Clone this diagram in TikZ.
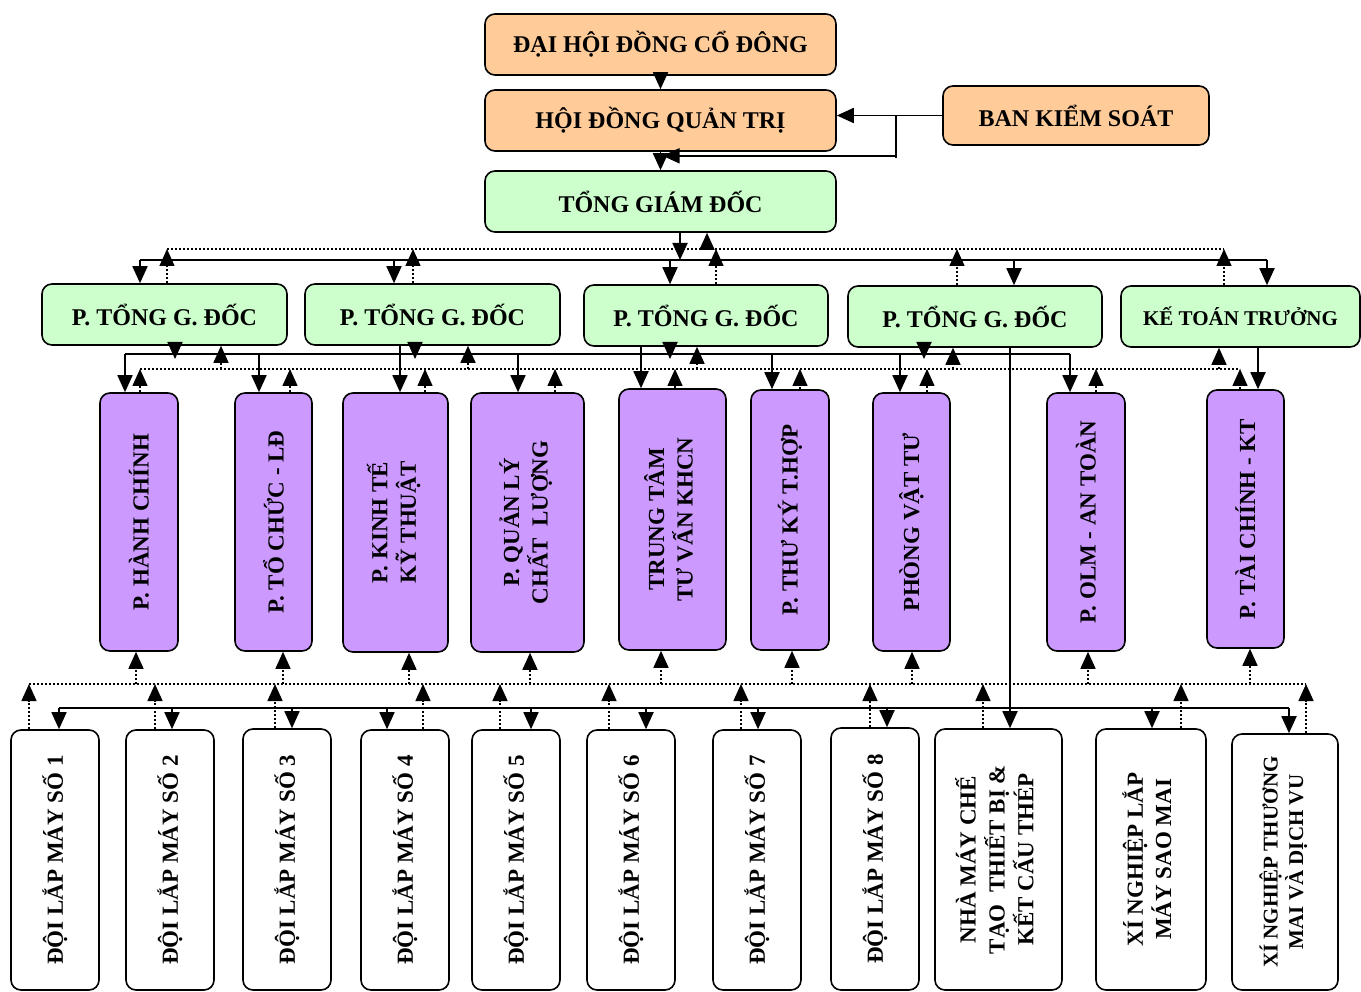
\documentclass[tikz,border=0pt]{standalone}
\usepackage{fontspec}
\setmainfont{Liberation Serif}
\usepackage{graphicx}
\usetikzlibrary{arrows.meta}

\definecolor{boardorange}{RGB}{255,204,153}
\definecolor{mgrgreen}{RGB}{204,255,204}
\definecolor{deptpurple}{RGB}{204,153,255}

\tikzset{
  box/.style={draw, line width=1.6pt, rounded corners=10pt, inner sep=0pt, align=center, font=\bfseries\fontsize{24}{28}\selectfont},
  board/.style={box, fill=boardorange},
  manager/.style={box, fill=mgrgreen},
  dept/.style={box, fill=deptpurple, font=\bfseries\fontsize{23}{27}\selectfont},
  unit/.style={box, fill=white, font=\bfseries\fontsize{23}{28}\selectfont},
  cline/.style={line width=1.8pt},
  rline/.style={line width=1.5pt, dash pattern=on 2pt off 2pt},
  order/.style={cline, -{Triangle[length=17pt,width=15pt]}},
  report/.style={rline, -{Triangle[length=17pt,width=15pt]}}
}

\begin{document}
\begin{tikzpicture}[x=1pt,y=-1pt]

%\draw (0,0) grid (1361,992);
\useasboundingbox (0,0) rectangle (1361,992);

\node [board, minimum width=351, minimum height=61] (dhcd) at (660.5,44.5) {ĐẠI HỘI ĐỒNG CỔ ĐÔNG};
\node [board, minimum width=351, minimum height=61] (hdqt) at (660.5,120.5) {HỘI ĐỒNG QUẢN TRỊ};
\node [board, minimum width=266, minimum height=59] (bks) at (1076,115.5) {BAN KIỂM SOÁT};
\node [manager, minimum width=351, minimum height=61] (tgd) at (660.5,201.5) {TỔNG GIÁM ĐỐC};

\node [manager, minimum width=245, minimum height=61] (ptgd1) at (164.5,314.5) {P. TỔNG G. ĐỐC};
\node [manager, minimum width=255, minimum height=61] (ptgd2) at (432.5,314.5) {P. TỔNG G. ĐỐC};
\node [manager, minimum width=244, minimum height=61] (ptgd3) at (706,315.5) {P. TỔNG G. ĐỐC};
\node [manager, minimum width=254, minimum height=61] (ptgd4) at (975,316.5) {P. TỔNG G. ĐỐC};
\node [manager, minimum width=239, minimum height=61, font=\bfseries\fontsize{21}{25}\selectfont] (ketoan) at (1240.5,316.5) {KẾ TOÁN TRƯỞNG};

\node [dept, minimum width=78, minimum height=258] (hanhchinh) at (139,522) {\rotatebox{90}{P. HÀNH CHÍNH}};
\node [dept, minimum width=77, minimum height=258] (tochuc) at (273.5,522) {\rotatebox{90}{P. TỔ CHỨC - LĐ}};
\node [dept, minimum width=105, minimum height=259] (kinhte) at (395.5,522.5) {\rotatebox{90}{\begin{tabular}{@{}c@{}}P. KINH TẾ\\KỸ THUẬT\end{tabular}}};
\node [dept, minimum width=113, minimum height=259] (chatluong) at (527.5,522.5) {\rotatebox{90}{\begin{tabular}{@{}c@{}}P. QUẢN LÝ\\CHẤT~ LƯỢNG\end{tabular}}};
\node [dept, minimum width=107, minimum height=261] (tuvan) at (672.5,519.5) {\rotatebox{90}{\begin{tabular}{@{}c@{}}TRUNG TÂM\\TƯ VẤN KHCN\end{tabular}}};
\node [dept, minimum width=78, minimum height=260] (thuky) at (790,520) {\rotatebox{90}{P. THƯ KÝ T.HỢP}};
\node [dept, minimum width=77, minimum height=258] (vattu) at (911.5,522) {\rotatebox{90}{PHÒNG VẬT TƯ}};
\node [dept, minimum width=78, minimum height=258] (antoan) at (1086,522) {\rotatebox{90}{P. OLM - AN TOÀN}};
\node [dept, minimum width=77, minimum height=258] (taichinh) at (1245.5,519) {\rotatebox{90}{P. TÀI CHÍNH - KT}};

\node [unit, minimum width=88, minimum height=260] (doi1) at (55,860) {\rotatebox{90}{ĐỘI LẮP MÁY SỐ 1}};
\node [unit, minimum width=88, minimum height=260] (doi2) at (170,860) {\rotatebox{90}{ĐỘI LẮP MÁY SỐ 2}};
\node [unit, minimum width=88, minimum height=261] (doi3) at (287,859.5) {\rotatebox{90}{ĐỘI LẮP MÁY SỐ 3}};
\node [unit, minimum width=88, minimum height=260] (doi4) at (405,860) {\rotatebox{90}{ĐỘI LẮP MÁY SỐ 4}};
\node [unit, minimum width=88, minimum height=260] (doi5) at (516,860) {\rotatebox{90}{ĐỘI LẮP MÁY SỐ 5}};
\node [unit, minimum width=88, minimum height=260] (doi6) at (631,860) {\rotatebox{90}{ĐỘI LẮP MÁY SỐ 6}};
\node [unit, minimum width=88, minimum height=260] (doi7) at (757,860) {\rotatebox{90}{ĐỘI LẮP MÁY SỐ 7}};
\node [unit, minimum width=88, minimum height=262] (doi8) at (875,859) {\rotatebox{90}{ĐỘI LẮP MÁY SỐ 8}};
\node [unit, minimum width=127, minimum height=261] (nhamay) at (998.5,859.5) {\rotatebox{90}{\begin{tabular}{@{}c@{}}NHÀ MÁY CHẾ\\TẠO~ THIẾT BỊ \&\\KẾT CẤU THÉP\end{tabular}}};
\node [unit, minimum width=110, minimum height=261] (saomai) at (1151,859.5) {\rotatebox{90}{\begin{tabular}{@{}c@{}}XÍ NGHIỆP LẮP\\MÁY SAO MAI\end{tabular}}};
\node [unit, minimum width=106, minimum height=256, font=\bfseries\fontsize{21}{25}\selectfont] (thuongmai) at (1285,862) {\rotatebox{90}{\begin{tabular}{@{}c@{}}XÍ NGHIỆP THƯƠNG\\MAI VÀ DỊCH VU\end{tabular}}};

\coordinate (r1) at (0,249); \coordinate (s1) at (0,260);
\coordinate (s2) at (0,354); \coordinate (r2) at (0,369);
\coordinate (r3) at (0,684); \coordinate (s3) at (0,708);
\coordinate (bj) at (896,115.5);

% top
\draw [order] (dhcd) -- (hdqt); \draw [order] (hdqt) -- (tgd);
\draw [order] (bks) -- (bks -| hdqt.east);
\draw [cline] (bj) -- ++(0,43); \draw [order] (bj) |- ([xshift=2,yshift=-4]hdqt.south);

% tong giam doc
\draw [order] (tgd.south -| 680,0) -- (s1 -| 680,0); \draw [report] (r1 -| 707,0) -- (tgd.south -| 707,0);
\draw [cline] (s1 -| 140,0) -- (s1 -| 1267,0); \draw [rline] (r1 -| 167,0) -- (r1 -| 1224,0);
\draw [order] (s1 -| 140,0) -- (ptgd1.north -| 140,0); \draw [report] (ptgd1.north -| 167,0) -- (r1 -| 167,0);
\draw [order] (s1 -| 394,0) -- (ptgd2.north -| 394,0); \draw [report] (ptgd2.north -| 413,0) -- (r1 -| 413,0);
\draw [order] (s1 -| 670,0) -- (ptgd3.north -| 670,0); \draw [report] (ptgd3.north -| 716,0) -- (r1 -| 716,0);
\draw [order] (s1 -| 1014,0) -- (ptgd4.north -| 1014,0); \draw [report] (ptgd4.north -| 957,0) -- (r1 -| 957,0);
\draw [order] (s1 -| 1267,0) -- (ketoan.north -| 1267,0); \draw [report] (ketoan.north -| 1224,0) -- (r1 -| 1224,0);

% pho tong giam doc
\draw [cline] (s2 -| 125,0) -- (s2 -| 1070,0); \draw [rline] (r2 -| 140,0) -- (r2 -| 1240,0);
\draw [order, shorten >=-5pt] (ptgd1.south -| 175,0) -- (s2 -| 175,0); \draw [report] (r2 -| 221,0) -- (ptgd1.south -| 221,0);
\draw [order, shorten >=-5pt] (ptgd2.south -| 415,0) -- (s2 -| 415,0); \draw [report] (r2 -| 468,0) -- (ptgd2.south -| 468,0);
\draw [order, shorten >=-5pt] (ptgd3.south -| 670,0) -- (s2 -| 670,0); \draw [report] (r2 -| 697,0) -- (ptgd3.south -| 697,0);
\draw [order, shorten >=-5pt] (ptgd4.south -| 924,0) -- (s2 -| 924,0); \draw [report] (r2 -| 953,0) -- (ptgd4.south -| 953,0);
\draw [report] (r2 -| 1219,0) -- (ketoan.south -| 1219,0);
\draw [order] (ptgd2.south -| 400,0) -- (kinhte.north -| 400,0);
\draw [order] (ptgd3.south -| 641,0) -- (tuvan.north -| 641,0);
\draw [order] (ketoan.south -| 1258,0) -- (taichinh.north -| 1258,0);
\draw [order] (ptgd4.south -| 1010,0) -- (nhamay.north -| 1010,0);

% phong ban
\draw [order] (s2 -| 125,0) -- (hanhchinh.north -| 125,0); \draw [report] (hanhchinh.north -| 140,0) -- (r2 -| 140,0);
\draw [order] (s2 -| 259,0) -- (tochuc.north -| 259,0); \draw [report] (tochuc.north -| 290,0) -- (r2 -| 290,0);
\draw [report] (kinhte.north -| 425,0) -- (r2 -| 425,0);
\draw [order] (s2 -| 518,0) -- (chatluong.north -| 518,0); \draw [report] (chatluong.north -| 555,0) -- (r2 -| 555,0);
\draw [report] (tuvan.north -| 675,0) -- (r2 -| 675,0);
\draw [order] (s2 -| 772,0) -- (thuky.north -| 772,0); \draw [report] (thuky.north -| 800,0) -- (r2 -| 800,0);
\draw [order] (s2 -| 900,0) -- (vattu.north -| 900,0); \draw [report] (vattu.north -| 927,0) -- (r2 -| 927,0);
\draw [order] (s2 -| 1070,0) -- (antoan.north -| 1070,0); \draw [report] (antoan.north -| 1096,0) -- (r2 -| 1096,0);
\draw [report] (taichinh.north -| 1240,0) -- (r2 -| 1240,0);

\draw [rline] (r3 -| 29,0) -- (r3 -| 1306,0);
\draw [report] (r3 -| 136,0) -- (hanhchinh.south -| 136,0); \draw [report] (r3 -| 283,0) -- (tochuc.south -| 283,0);
\draw [report] (r3 -| 409,0) -- (kinhte.south -| 409,0); \draw [report] (r3 -| 530,0) -- (chatluong.south -| 530,0);
\draw [report] (r3 -| 661,0) -- (tuvan.south -| 661,0); \draw [report] (r3 -| 792,0) -- (thuky.south -| 792,0);
\draw [report] (r3 -| 912,0) -- (vattu.south -| 912,0); \draw [report] (r3 -| 1088,0) -- (antoan.south -| 1088,0);
\draw [report] (r3 -| 1250,0) -- (taichinh.south -| 1250,0);

% doi, xi nghiep
\draw [cline] (s3 -| 59,0) -- (s3 -| 1289,0);
\draw [order] (s3 -| 59,0) -- (doi1.north -| 59,0); \draw [report] (doi1.north -| 29,0) -- (r3 -| 29,0);
\draw [order] (s3 -| 172,0) -- (doi2.north -| 172,0); \draw [report] (doi2.north -| 155,0) -- (r3 -| 155,0);
\draw [order] (s3 -| 292,0) -- (doi3.north -| 292,0); \draw [report] (doi3.north -| 275,0) -- (r3 -| 275,0);
\draw [order] (s3 -| 387,0) -- (doi4.north -| 387,0); \draw [report] (doi4.north -| 423,0) -- (r3 -| 423,0);
\draw [order] (s3 -| 531,0) -- (doi5.north -| 531,0); \draw [report] (doi5.north -| 500,0) -- (r3 -| 500,0);
\draw [order] (s3 -| 646,0) -- (doi6.north -| 646,0); \draw [report] (doi6.north -| 609,0) -- (r3 -| 609,0);
\draw [order] (s3 -| 758,0) -- (doi7.north -| 758,0); \draw [report] (doi7.north -| 741,0) -- (r3 -| 741,0);
\draw [order] (s3 -| 887,0) -- (doi8.north -| 887,0); \draw [report] (doi8.north -| 870,0) -- (r3 -| 870,0);
\draw [report] (nhamay.north -| 983,0) -- (r3 -| 983,0);
\draw [order] (s3 -| 1152,0) -- (saomai.north -| 1152,0); \draw [report] (saomai.north -| 1181,0) -- (r3 -| 1181,0);
\draw [order] (s3 -| 1289,0) -- (thuongmai.north -| 1289,0); \draw [report] (thuongmai.north -| 1306,0) -- (r3 -| 1306,0);

\end{tikzpicture}
\end{document}
